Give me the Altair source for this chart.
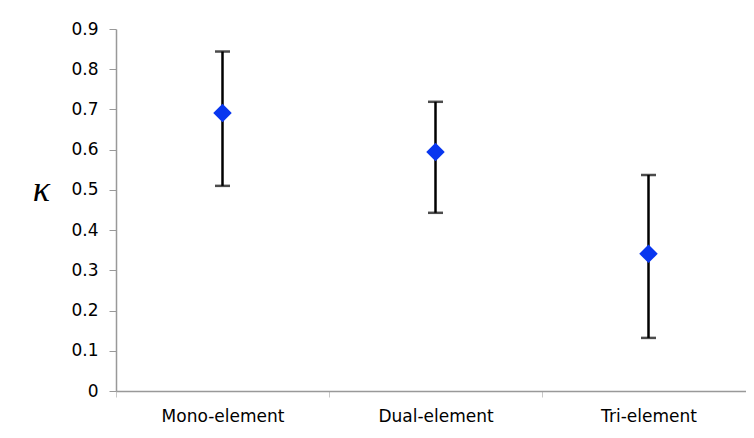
import altair as alt
import pandas as pd

categories = ["Mono-element", "Dual-element", "Tri-element"]
kappa = [0.691, 0.594, 0.341]
upper = [0.844, 0.719, 0.537]
lower = [0.510, 0.443, 0.132]

df = pd.DataFrame({"cat": categories, "k": kappa, "hi": upper, "lo": lower})

FONT = "DejaVu Sans"

x = alt.X("cat:N", sort=categories,
          scale=alt.Scale(paddingInner=0, paddingOuter=0, range=[0, 639]),
          axis=alt.Axis(title=None, labelAngle=0, tickBand="extent",
                        labelFontSize=17, labelFont=FONT, labelColor="#000",
                        labelPadding=11, tickSize=6, tickColor="#c8c8c8",
                        domainColor="#999999", domainWidth=1.5, grid=False))

base = alt.Chart(df).encode(x=x)

rules = base.mark_rule(color="black", strokeWidth=2.5).encode(
    y=alt.Y("lo:Q", scale=alt.Scale(domain=[0, 0.9]),
            axis=alt.Axis(values=[0, 0.1, 0.2, 0.3, 0.4, 0.5, 0.6, 0.7, 0.8, 0.9],
                          format="~g", labelFontSize=17, labelFont=FONT,
                          labelColor="#000", tickSize=7, tickColor="#999999",
                          domainColor="#999999", domainWidth=1.5, labelPadding=11,
                          grid=False, title="κ", titleAngle=0, titleX=-75,
                          titleY=160, titleFont="Liberation Serif",
                          titleFontStyle="italic", titleFontWeight="normal",
                          titleFontSize=36, titleBaseline="middle",
                          titleAlign="center", titleColor="#000")),
    y2="hi:Q")

cap_hi = base.mark_tick(color="black", thickness=2.5, size=15, orient="horizontal").encode(y="hi:Q")
cap_lo = base.mark_tick(color="black", thickness=2.5, size=15, orient="horizontal").encode(y="lo:Q")

pts = base.mark_point(shape="diamond", filled=True, size=340, color="#0836ef", opacity=1).encode(y="k:Q")

chart = alt.layer(rules, cap_hi, cap_lo, pts).properties(
    width=630, height=362,
    autosize=alt.AutoSizeParams(type="none"),
    padding={"left": 108, "top": 21, "right": 0, "bottom": 39},
).configure_view(stroke=None)

chart.save("out.html", embed_options={"renderer": "svg", "actions": False})
